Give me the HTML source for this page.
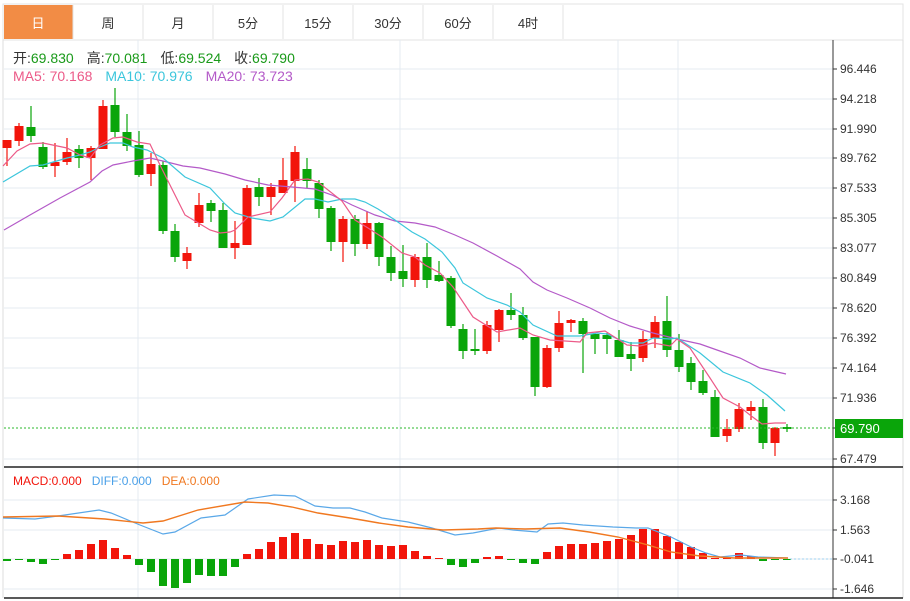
<!DOCTYPE html>
<html><head><meta charset="utf-8"><style>
body{margin:0;background:#fff;width:910px;height:601px;overflow:hidden;font-family:"Liberation Sans","Noto Sans CJK SC",sans-serif}
svg{position:absolute;left:0;top:0}
</style></head><body>
<svg id="s" width="910" height="601" xmlns="http://www.w3.org/2000/svg" font-family="Liberation Sans, Noto Sans CJK SC, sans-serif"></svg>
<script>
const s=document.getElementById('s');let h='';
h+='<rect x="3" y="4" width="900" height="36" fill="#fff" stroke="#e3e3e3"/>';
h+='<rect x="4" y="5" width="69" height="34" fill="#f28c45"/>';
const tabs=['日','周','月','5分','15分','30分','60分','4时'];
for(let i=0;i<8;i++){const cx=38+i*70;h+=`<line x1="${73+i*70}" y1="5" x2="${73+i*70}" y2="39" stroke="#e3e3e3"/>`;
h+=`<text x="${cx}" y="28" font-size="13" text-anchor="middle" fill="${i==0?'#fff':'#333'}">${tabs[i]}</text>`;}
h+='<line x1="3" y1="40" x2="3" y2="598" stroke="#ddd"/><line x1="903" y1="40" x2="903" y2="598" stroke="#ddd"/>';
const py=[69,99,129,158,188,218,248,278,308,338,368,398,428,459];
const pl=['96.446','94.218','91.990','89.762','87.533','85.305','83.077','80.849','78.620','76.392','74.164','71.936','','67.479'];
py.forEach((y,i)=>{if(i!=12)h+=`<line x1="4" y1="${y}" x2="833" y2="${y}" stroke="#e4ebf2"/>`;h+=`<line x1="833" y1="${y}" x2="837" y2="${y}" stroke="#333"/>`;if(pl[i])h+=`<text x="840" y="${y+4}" font-size="12" fill="#333">${pl[i]}</text>`;});
[138,400,618,678].forEach(x=>{h+=`<line x1="${x}" y1="40" x2="${x}" y2="598" stroke="#e4ebf2"/>`;});
const my=[500,530,559,589],ml=['3.168','1.563','-0.041','-1.646'];
my.forEach((y,i)=>{h+=`<line x1="4" y1="${y}" x2="833" y2="${y}" stroke="#e4ebf2"/><line x1="833" y1="${y}" x2="837" y2="${y}" stroke="#333"/><text x="840" y="${y+4}" font-size="12" fill="#333">${ml[i]}</text>`;});
h+='<line x1="833" y1="40" x2="833" y2="598" stroke="#333"/><line x1="4" y1="467" x2="903" y2="467" stroke="#222" stroke-width="1.5"/><line x1="4" y1="598" x2="903" y2="598" stroke="#222" stroke-width="1.5"/>';
const C=[['r',140,148,140,166],['r',126,141,123,146],['g',127,136,106,142],['g',147,167,142,169],['r',162,166,143,177],['r',152,162,138,165],['g',149,158,145,168],['r',148,158,146,180],['r',106,149,100,149],['g',105,132,88,137],['g',132,146,114,151],['g',145,175,131,177],['r',164,174,153,186],['g',165,231,161,234],['g',231,257,224,262],['r',253,261,247,269],['r',205,223,193,227],['g',203,211,200,222],['g',210,248,203,248],
['r',243,248,221,259],['r',188,245,185,245],['g',187,197,178,206],['r',187,197,183,215],['r',180,193,158,193],['r',152,181,146,202],['g',169,181,158,188],['g',183,209,180,218],['g',208,242,206,251],['r',219,242,216,262],['g',219,244,215,256],['r',223,244,211,249],['g',223,257,222,266],['g',257,273,246,281],['g',271,279,245,287],['r',257,280,254,287],['g',257,280,243,288],['g',275,281,261,282],
['g',278,326,276,328],['g',329,351,324,359],['g',349,351,329,355],['r',325,351,321,354],['r',310,330,309,342],['g',310,315,293,320],['g',315,338,307,340],['g',337,387,337,396],['r',348,387,345,388],['r',323,348,311,352],['r',320,323,319,332],['g',321,334,318,373],['g',334,339,333,354],['g',335,339,333,354],['g',340,357,330,357],['g',354,359,342,371],['r',339,358,331,362],['r',322,338,316,348],['g',321,350,296,357],
['g',350,367,334,372],['g',363,382,357,390],['g',381,393,370,395],['g',397,437,390,437],['r',429,436,419,442],['r',409,429,403,432],['r',407,411,401,420],['g',407,443,399,449],['r',428,443,427,456],['g',427,429,424,432]];
const R='#f2150b',G='#0aa50a';
C.forEach((c,i)=>{const x=7+i*12,col=c[0]=='r'?R:G;h+=`<line x1="${x}" y1="${c[3]}" x2="${x}" y2="${c[4]}" stroke="${col}" stroke-width="1.2"/><rect x="${x-4.5}" y="${c[1]}" width="9" height="${Math.max(1.5,c[2]-c[1])}" fill="${col}"/>`;});
function pl2(p,col,w){return `<polyline points="${p}" fill="none" stroke="${col}" stroke-width="${w||1.2}"/>`;}
h+=pl2('4,230 30,215 60,198 90,182 102,171 113,165 133,161 150,158 167,162 183,166 200,168 225,174 245,180 268,185 292,187 315,189 332,195 352,205 375,215 395,221 415,223 435,227 455,235 473,243 497,256 520,269 533,282 547,290 567,298 590,308 610,318 630,326 653,333 677,339 700,344 717,350 740,358 760,368 773,371 786,374','#b45ac8');
h+=pl2('3,182 30,166 43,165 67,158 80,155 90,152 100,147 110,143 123,143 133,147 147,150 163,158 185,177 210,188 225,204 235,213 252,218 270,221 283,217 305,199 315,199 328,202 342,199 355,199 365,202 378,209 395,220 412,232 425,239 442,252 455,268 463,283 487,298 507,305 520,312 533,325 557,336 580,336 597,333 607,334 620,340 630,343 643,343 653,338 670,339 677,338 700,353 723,372 750,383 767,395 785,411','#3cc6dc');
h+=pl2('3,166 17,151 30,144 43,143 67,148 80,155 90,158 100,145 113,138 123,137 137,142 150,144 160,165 185,215 210,230 220,233 230,232 235,230 248,217 270,212 282,198 295,180 308,179 318,182 342,201 355,220 368,228 382,237 402,253 415,257 425,265 440,273 453,287 473,317 497,332 520,328 533,335 550,340 580,342 587,333 605,331 627,345 640,346 653,343 670,346 677,339 690,348 710,378 723,398 740,407 750,415 762,424 775,423 786,423','#ec5a88');
h+='<line x1="4" y1="428" x2="833" y2="428" stroke="#2bb82b" stroke-dasharray="2,2"/><rect x="835" y="419" width="68" height="19" fill="#0aa50a"/><text x="840" y="433" font-size="13" fill="#fff">69.790</text>';
h+='<text x="13" y="63" font-size="14" fill="#333">开:<tspan fill="#1a9a1a">69.830</tspan><tspan dx="13">高:</tspan><tspan fill="#1a9a1a">70.081</tspan><tspan dx="13">低:</tspan><tspan fill="#1a9a1a">69.524</tspan><tspan dx="13">收:</tspan><tspan fill="#1a9a1a">69.790</tspan></text>';
h+='<text x="13" y="81" font-size="14"><tspan fill="#ec5a88">MA5: 70.168</tspan><tspan dx="13" fill="#3cc6dc">MA10: 70.976</tspan><tspan dx="13" fill="#b45ac8">MA20: 73.723</tspan></text>';
h+='<text x="13" y="485" font-size="12"><tspan fill="#f2150b">MACD:0.000</tspan><tspan dx="10" fill="#4aa0e8">DIFF:0.000</tspan><tspan dx="10" fill="#f07820">DEA:0.000</tspan></text>';
const B=[561,560,562,564,560,554,550,544,540,548,555,565,572,586,588,583,575,576,576,567,554,549,542,537,533,539,544,545,541,542,540,545,546,545,551,556,558,565,567,563,557,556,560,563,564,552,546,544,544,543,541,539,535,529,529,536,542,547,553,558,558,553,556,561,559,559];
B.forEach((y,i)=>{const x=7+i*12;const up=y<559;const col=up?R:G;const t=Math.min(y,559),hh=Math.max(1,Math.abs(y-559));h+=`<rect x="${x-4}" y="${t}" width="8" height="${hh}" fill="${col}"/>`;});
h+='<line x1="790" y1="559" x2="833" y2="559" stroke="#9cd0f0" stroke-dasharray="2,2"/>';
h+=pl2('3,518 35,519 58,516 99,510 111,513 140,525 163,534 175,532 201,518 225,515 248,499 274,495 295,496 315,506 333,508 350,508 365,512 382,518 408,522 432,528 455,535 473,533 499,528 513,530 537,532 548,524 563,523 583,525 613,527 636,528 648,528 671,537 691,547 706,553 720,557 741,555 758,557 788,558','#5aa8e8');
h+=pl2('3,517 58,516 105,519 143,523 163,521 198,510 245,502 268,503 292,507 318,513 350,518 379,523 408,527 443,530 478,529 496,528 525,529 560,528 589,532 618,537 648,545 671,552 700,556 735,558 788,558','#f07820',1.4);
s.innerHTML=h;
</script>
</body></html>
